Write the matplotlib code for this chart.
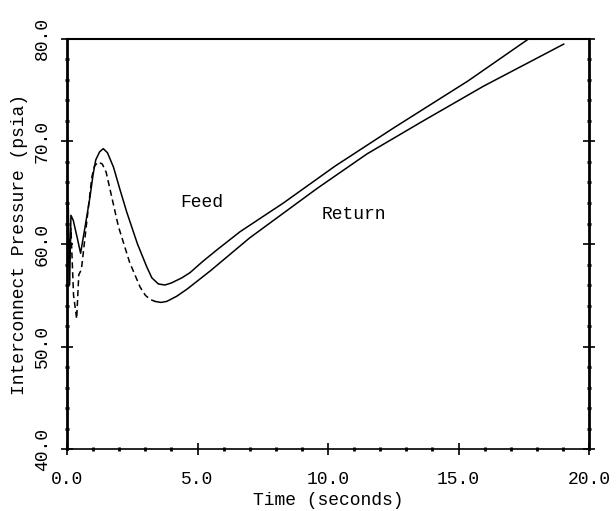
import matplotlib
matplotlib.use("Agg")
import matplotlib.pyplot as plt
from matplotlib.ticker import MultipleLocator, FormatStrFormatter

plt.rcParams["font.family"] = ["Liberation Mono", "DejaVu Sans Mono"]

# Feed line interconnect pressure (psia) vs time (s)
feed_t = [0.0, 0.05, 0.1, 0.15, 0.24, 0.4, 0.52, 0.7, 0.88, 1.0, 1.1, 1.25, 1.39,
          1.55, 1.78, 2.03, 2.29, 2.7, 3.05, 3.25, 3.5, 3.75, 4.0, 4.4, 4.71, 5.2,
          5.73, 6.63, 8.29, 10.27, 12.5, 15.36, 17.68]
feed_p = [64.3, 63.5, 56.0, 62.8, 62.3, 60.5, 59.1, 61.8, 64.6, 66.8, 68.2, 69.0, 69.3,
          68.9, 67.5, 65.3, 63.1, 60.0, 57.8, 56.7, 56.1, 56.0, 56.2, 56.7, 57.2, 58.3,
          59.4, 61.2, 64.0, 67.6, 71.3, 75.9, 80.0]

# Return line: early transient (dashed) and the recovery afterwards (solid)
ret_t_early = [0.0, 0.08, 0.15, 0.25, 0.37, 0.45, 0.55, 0.82, 0.95, 1.05, 1.2, 1.35,
               1.5, 1.65, 1.97, 2.4, 2.8, 3.0, 3.18, 3.37]
ret_p_early = [63.8, 58.0, 61.5, 55.0, 52.7, 57.0, 57.5, 63.6, 66.5, 67.6, 68.0, 67.8,
               67.0, 65.3, 61.7, 58.2, 55.8, 55.0, 54.6, 54.4]
ret_t_late = [3.37, 3.6, 3.82, 4.2, 4.6, 5.5, 7.0, 9.57, 11.5, 13.64, 15.96, 19.03]
ret_p_late = [54.4, 54.3, 54.4, 54.9, 55.6, 57.4, 60.6, 65.4, 68.8, 72.0, 75.4, 79.5]

fig = plt.figure(figsize=(6.16, 5.11), dpi=100)
ax = fig.add_axes([0.1088, 0.1213, 0.8474, 0.8024])

ax.plot(feed_t, feed_p, color="black", lw=1.1)
ax.plot(ret_t_early, ret_p_early, color="black", lw=1.1, ls=(0, (4, 2.5)))
ax.plot(ret_t_late, ret_p_late, color="black", lw=1.1)

ax.text(4.33, 64.05, "Feed", fontsize=13, va="center", ha="left")
ax.text(9.77, 62.9, "Return", fontsize=13, va="center", ha="left")

ax.set_xlim(0, 20)
ax.set_ylim(40, 80)
ax.xaxis.set_major_locator(MultipleLocator(5))
ax.xaxis.set_minor_locator(MultipleLocator(1))
ax.yaxis.set_major_locator(MultipleLocator(10))
ax.yaxis.set_minor_locator(MultipleLocator(2))
ax.xaxis.set_major_formatter(FormatStrFormatter("%.1f"))
ax.yaxis.set_major_formatter(FormatStrFormatter("%.1f"))

ax.tick_params(which="major", direction="inout", length=9, width=1.2,
               labelsize=13, top=False, right=True)
ax.tick_params(which="minor", direction="inout", length=3, width=2,
               top=False, right=True)
ax.tick_params(axis="y", labelrotation=90, pad=7)
ax.tick_params(axis="x", pad=11)
for lbl in ax.get_yticklabels():
    lbl.set_va("center")

ax.spines["left"].set_linewidth(2)
ax.spines["right"].set_linewidth(2)
ax.spines["top"].set_linewidth(1.5)
ax.spines["bottom"].set_linewidth(1.2)

ax.set_xlabel("Time (seconds)", fontsize=13, labelpad=3)
ax.set_ylabel("Interconnect Pressure (psia)", fontsize=13, labelpad=4)

fig.savefig("out.png", dpi=100)
